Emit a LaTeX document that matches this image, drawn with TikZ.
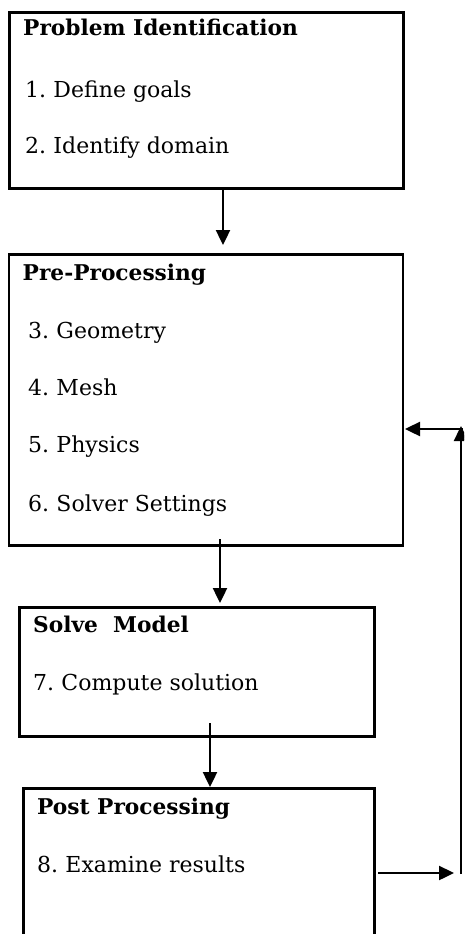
\documentclass[tikz,border=0pt]{standalone}
\usepackage{fontspec}
\setmainfont{DejaVu Serif}
\usetikzlibrary{arrows.meta,calc}
\begin{document}
\begin{tikzpicture}[x=1pt,y=-1pt,
  box/.style={draw,line width=2.6pt,rectangle,inner sep=0pt,anchor=north west},
  head/.style={anchor=base west,inner sep=0pt,font=\fontsize{21.7}{24}\selectfont\bfseries},
  item/.style={anchor=base west,inner sep=0pt,font=\fontsize{22}{25}\selectfont},
  arr/.style={line width=2.4pt,-{Triangle[length=15pt,width=14pt]}}]
\clip (0,0) rectangle (464,934);
\useasboundingbox (0,0) rectangle (464,934);
% boxes
\node[box,minimum width=394pt,minimum height=176pt] (b1) at (8,11) {};
\node[box,minimum width=394pt,minimum height=291pt] (b2) at (7.5,253) {};
\node[box,minimum width=355pt,minimum height=129pt] (b3) at (18,606) {};
\node[box,minimum width=351pt,minimum height=170pt] (b4) at (22,787) {};
% texts
\node[head] (t1) at (23,36) {Problem Identification};
\node[item] (t2) at (25,97) {1.\hspace{-2pt} Define goals};
\node[item] (t3) at (25,153) {2.\hspace{-2pt} Identify domain};
\node[head] (t4) at (22.5,280) {Pre-Processing};
\node[item] (t5) at (28,338) {3.\hspace{-2pt} Geometry};
\node[item] (t6) at (28,395) {4.\hspace{-2pt} Mesh};
\node[item] (t7) at (28,452) {5.\hspace{-2pt} Physics};
\node[item] (t8) at (28,511) {6.\hspace{-2pt} Solver Settings};
\node[head] (t9) at (33,632) {Solve\ \ Model};
\node[item] (t10) at (33,690) {7.\hspace{-2pt} Compute solution};
\node[head] (t11) at (37,814) {Post Processing};
\node[item] (t12) at (37,872) {8.\hspace{-2pt} Examine results};
% arrow coordinates
\coordinate (a1s) at (223,190);
\coordinate (a1e) at (223,245);
\coordinate (a2s) at (220,539);
\coordinate (a2e) at (220,603);
\coordinate (a3s) at (210,723);
\coordinate (a3e) at (210,787);
\coordinate (fs) at (378,873);
\coordinate (fre) at (454,873);
\coordinate (fc) at (461,874);
\coordinate (fu) at (461,426);
\coordinate (fl) at (463,429);
\coordinate (fle) at (405,429);
\draw[arr] (a1s) -- (a1e);
\draw[arr] (a2s) -- (a2e);
\draw[arr] (a3s) -- (a3e);
\draw[arr] (fs) -- (fre);
\draw[arr] (fc) -- (fu);
\draw[arr] (fl) -- (fle);
\end{tikzpicture}
\end{document}
